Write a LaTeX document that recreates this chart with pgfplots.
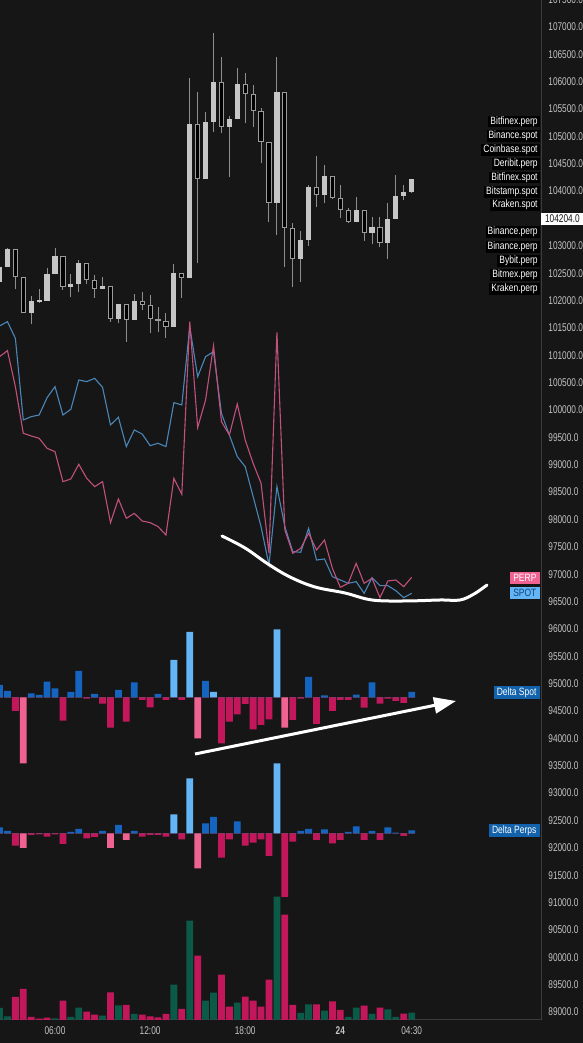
\documentclass[border=0pt]{standalone}
\usepackage{fontspec}
\setmainfont{Liberation Sans}[FakeStretch=0.8]
\newfontfamily\tickfont{Liberation Sans}[FakeStretch=0.74]
\usepackage{pgfplots}
\pgfplotsset{compat=1.18}
\usepackage{pgfplotstable}
\usetikzlibrary{arrows.meta}

\definecolor{bg}{HTML}{161616}
\definecolor{axisgray}{HTML}{3C3C3C}
\definecolor{ticktxt}{HTML}{C4C4C4}
\definecolor{candleup}{HTML}{C6C6C6}
\definecolor{candleout}{HTML}{9C9C9C}
\definecolor{wick}{HTML}{8E8E8E}
\definecolor{perpline}{HTML}{C2507C}
\definecolor{spotline}{HTML}{4A86B8}
\definecolor{dblue}{HTML}{1565C0}
\definecolor{lblue}{HTML}{64B5F6}
\definecolor{dpink}{HTML}{C2185B}
\definecolor{lpink}{HTML}{F06292}
\definecolor{volgreen}{HTML}{0B5A48}
\definecolor{tagblue}{HTML}{1262AC}

% 30-min candles, x in hours (24 = midnight), prices in USD
\pgfplotstableread{
t    o      h      l      c
2.5  102346 102620 102103 102620
3.0  102620 102955 102620 102937
4.5  101780 102084 101566 101999
5.0  101975 102206 101963 102011
5.5  101993 102590 101993 102486
6.0  102486 102955 102486 102821
7.0  102255 102486 102072 102297
7.5  102297 102742 102163 102681
9.0  102206 102437 102206 102273
10.0 101664 101932 101585 101932
11.0 101646 102115 101646 101999
13.5 101524 102663 101524 102498
14.5 102407 106062 102407 105221
15.5 104222 105441 104222 105258
16.0 105258 106884 105087 105995
17.0 105179 105380 104253 105313
17.5 105313 106257 105313 105958
20.0 103790 106458 103199 105806
21.5 102760 103278 102346 103108
22.0 103108 104113 103004 104082
23.0 103930 104478 103778 104277
25.0 103430 103887 103430 103656
26.0 103229 103534 103034 103351
27.0 103059 103778 102760 103485
27.5 103485 104295 103485 103918
28.0 103918 104113 103839 103991
28.5 103991 104216 103960 104216
}\upc

\pgfplotstableread{
t    o      h      l      c
3.5  102937 102937 102206 102425
4.0  102425 102425 101780 101780
6.5  102821 102821 102194 102255
8.0  102681 102681 102297 102376
8.5  102376 102468 102054 102206
9.5  102273 102273 101615 101664
10.5 101932 101932 101250 101646
11.5 101999 102163 101828 101914
12.0 101914 102102 101402 101664
12.5 101664 101889 101433 101633
13.0 101633 101767 101311 101524
14.0 102498 102498 102042 102407
15.0 105221 105818 102681 104222
16.5 105995 106446 105057 105179
18.0 105958 106153 105240 105776
18.5 105776 105940 105167 105471
19.0 105471 105514 104509 104892
19.5 104892 104892 103430 103790
20.5 105806 105806 102620 103321
21.0 103321 103412 102255 102760
22.5 104082 104649 103717 103930
23.5 104277 104277 103851 103869
24.0 103869 104113 103503 103656
24.5 103656 103686 103412 103430
25.5 103656 103656 103095 103229
26.5 103351 103534 102986 103059
}\downc

\pgfplotstableread{
t    spot   perp
2.5  101536 100975
3.0  101615 101085
3.5  101310 100427
4.0  99818  99574
4.5  99879  99526
5.0  99909  99483
5.5  100226 99300
6.0  100427 99239
6.5  99909  98691
7.0  100013 98740
7.5  100549 99008
8.0  100519 98752
8.5  100579 98600
9.0  100415 98691
9.5  99727  97942
10.0 99867  98374
10.5 99331  98021
11.0 99635  98112
11.5 99562  97972
12.0 99349  97942
12.5 99392  97869
13.0 99331  97716
13.5 100135 98752
14.0 100092 98460
14.5 101524 101615
15.0 100610 99678
15.5 100975 100184
16.0 101067 101176
16.5 99939  99788
17.0 99544  99544
17.5 99148  100110
18.0 98965  99452
18.5 98417  99026
19.0 97867  98661
19.5 97168  97381
20.0 98600  101420
20.5 97869  97808
21.0 97412  97381
21.5 97400  97473
22.0 97838  97747
22.5 97259  97442
23.0 97278  97625
23.5 96955  97107
24.0 96894  96760
24.5 96833  96833
25.0 96864  97198
25.5 96650  96833
26.0 96937  96924
26.5 96790  96571
27.0 96790  96876
27.5 96699  96894
28.0 96571  96772
28.5 96650  96943
}\cvd

% delta spot: d = normal bars, L = highlighted bars
\pgfplotstableread{
t    d     L
2.5  12.3  0
3.0  6.3   0
3.5  -13.7 0
4.0  0     -66
4.5  4     0
5.0  2.3   0
5.5  15.7  0
6.0  9     0
6.5  -23.3 0
7.0  5.3   0
7.5  26.3  0
8.0  -1.3  0
8.5  3.3   0
9.0  -6.3  0
9.5  -30.3 0
10.0 7.3   0
10.5 -24.3 0
11.0 15    0
11.5 -2.7  0
12.0 -10   0
12.5 3.3   0
13.0 -2.7  0
13.5 0     37.3
14.0 -2.7  0
14.5 0     65.3
15.0 0     -41
15.5 16.3  0
16.0 0     5.3
16.5 -46   0
17.0 -24.3 0
17.5 -17   0
18.0 -6.7  0
18.5 -32   0
19.0 -27.7 0
19.5 -22   0
20.0 0     68
20.5 0     -30.3
21.0 -22.7 0
21.5 -1.3  0
22.0 20.3  0
22.5 -26.7 0
23.0 2     0
23.5 -13.7 0
24.0 -2.7  0
24.5 -2.7  0
25.0 2.7   0
25.5 -10.3 0
26.0 15    0
26.5 -6.3  0
27.0 -1.3  0
27.5 -3.7  0
28.0 -5.7  0
28.5 5.3   0
}\dspot

\pgfplotstableread{
t    d     L
2.5  6     0
3.0  2.3   0
3.5  -12.3 0
4.0  0     -14.7
4.5  -1.7  0
5.0  -1    0
5.5  -3.3  0
6.0  -1    0
6.5  -10.7 0
7.0  1.3   0
7.5  4.3   0
8.0  -5    0
8.5  -3.7  0
9.0  2.3   0
9.5  0     -14.7
10.0 8.3   0
10.5 0     -6.7
11.0 2.3   0
11.5 -3.3  0
12.0 -1.7  0
12.5 -1.7  0
13.0 -3.3  0
13.5 0     19
14.0 -6    0
14.5 0     55
15.0 0     -35
15.5 10    0
16.0 16.3  0
16.5 -24.3 0
17.0 -6    0
17.5 12    0
18.0 -12.3 0
18.5 -9.3  0
19.0 -6    0
19.5 -22.7 0
20.0 0     70
20.5 -63.7 0
21.0 -8.3  0
21.5 2.3   0
22.0 4.3   0
22.5 -6.7  0
23.0 4     0
23.5 -10   0
24.0 -6.7  0
24.5 1.3   0
25.0 7     0
25.5 -6.7  0
26.0 2.3   0
26.5 -6.7  0
27.0 6     0
27.5 0.7   0
28.0 -2.7  0
28.5 3     0
}\dperp

\pgfplotstableread{
t    buy   sell
2.5  12    0
3.0  3.7   0
3.5  0     23
4.0  0     31
4.5  0     3
5.0  0     1.3
5.5  0     2.3
6.0  1.7   0
6.5  0     19.3
7.0  3     0
7.5  12.3  0
8.0  0     8.3
8.5  0     5.3
9.0  4.3   0
9.5  0     27.7
10.0 14.7  0
10.5 0     15
11.0 6     0
11.5 0     5.3
12.0 0     3.7
12.5 0     2.7
13.0 0     6
13.5 35.3  0
14.0 0     11
14.5 99.3  0
15.0 0     64.3
15.5 19.3  0
16.0 27.3  0
16.5 0     45.3
17.0 0     13.3
17.5 17.3  0
18.0 0     23.3
18.5 0     19.3
19.0 0     13.3
19.5 0     40.3
20.0 123.3 0
20.5 0     105.3
21.0 0     15
21.5 7     0
22.0 15.7  0
22.5 0     15.7
23.0 9.3   0
23.5 0     18.7
24.0 0     10
24.5 3     0
25.0 12.3  0
25.5 0     14.3
26.0 6     0
26.5 0     12.3
27.0 10.7  0
27.5 3     0
28.0 0     6.3
28.5 7.3   0
}\vol

\pgfplotsset{
  pane/.style={scale only axis, width=270.5pt, height=512pt,
    at={(0pt,11.5pt)}, anchor=south west, xmin=2.53, xmax=36.66},
  bars/.style={ybar, bar width=3.4pt, bar shift=0pt, draw=none},
  % stick={colour}{direction}{width}: vertical segments drawn as error bars
  stick/.style n args={3}{draw=none, mark=none,
    error bars/y dir=#2, error bars/y explicit, error bars/error mark=none,
    error bars/error bar style={draw=#1, line width=#3}},
}

\begin{document}
\begin{tikzpicture}
\useasboundingbox (0,0) rectangle (291.5pt,521.5pt);
\fill[bg] (0,0) rectangle (291.5pt,521.5pt);

\begin{axis}[pane,
    ymin=88853, ymax=107566,
    axis x line*=bottom, axis y line*=right,
    axis line style={draw=axisgray, line width=0.5pt},
    major tick length=0pt,
    ytick={89000,89500,90000,90500,91000,91500,92000,92500,93000,93500,94000,94500,
      95000,95500,96000,96500,97000,97500,98000,98500,99000,99500,100000,100500,
      101000,101500,102000,102500,103000,104000,104500,105000,105500,106000,
      106500,107000,107500},
    scaled y ticks=false,
    xtick={6,12,18,24,28.5},
    xticklabels={06:00,12:00,18:00,\textbf{24},04:30},
    tick label style={font=\tickfont\fontsize{5.6}{6}\selectfont, text=ticktxt},
    yticklabel style={anchor=west, inner sep=0pt, xshift=3.5pt,
      /pgf/number format/.cd, fixed, fixed zerofill, precision=1, 1000 sep={}},
    xticklabel style={anchor=center, inner sep=0pt, yshift=-5.5pt},
    /pgf/number format/assume math mode=true,
  ]
% wicks
\addplot[stick={wick}{plus}{0.5pt}]
  table[x=t, y=l, y error expr=\thisrow{h}-\thisrow{l}] {\upc};
\addplot[stick={wick}{plus}{0.5pt}]
  table[x=t, y=l, y error expr=\thisrow{h}-\thisrow{l}] {\downc};
% up bodies
\addplot[stick={candleup}{minus}{2.6pt}]
  table[x=t, y=c, y error expr={max(\thisrow{c}-\thisrow{o},18)}] {\upc};
% down bodies: grey outline, black inside
\addplot[stick={candleout}{minus}{2.6pt}]
  table[x=t, y=o, y error expr={max(\thisrow{o}-\thisrow{c},18)}] {\downc};
\addplot[stick={black}{minus}{1.6pt}]
  table[x=t, y expr=\thisrow{o}-18, y error expr={max(\thisrow{o}-\thisrow{c}-36,0)}] {\downc};
% spot / perp lines
\addplot[spotline, line width=0.55pt, mark=none] table[x=t, y=spot] {\cvd};
\addplot[perpline, line width=0.55pt, mark=none] table[x=t, y=perp] {\cvd};
\end{axis}

% delta spot pane
\begin{axis}[pane, hide axis, ymin=-322.7, ymax=701.3]
\addplot[bars, fill=dblue] table[x=t, y expr={max(\thisrow{d},0)}] {\dspot};
\addplot[bars, fill=dpink] table[x=t, y expr={min(\thisrow{d},0)}] {\dspot};
\addplot[bars, fill=lblue] table[x=t, y expr={max(\thisrow{L},0)}] {\dspot};
\addplot[bars, fill=lpink] table[x=t, y expr={min(\thisrow{L},0)}] {\dspot};
\end{axis}

% delta perps pane
\begin{axis}[pane, hide axis, ymin=-186.7, ymax=837.3]
\addplot[bars, fill=dblue] table[x=t, y expr={max(\thisrow{d},0)}] {\dperp};
\addplot[bars, fill=dpink] table[x=t, y expr={min(\thisrow{d},0)}] {\dperp};
\addplot[bars, fill=lblue] table[x=t, y expr={max(\thisrow{L},0)}] {\dperp};
\addplot[bars, fill=lpink] table[x=t, y expr={min(\thisrow{L},0)}] {\dperp};
\end{axis}

% volume pane
\begin{axis}[pane, hide axis, ymin=0, ymax=1024]
\addplot[bars, fill=volgreen] table[x=t, y=buy] {\vol};
\addplot[bars, fill=dpink] table[x=t, y=sell] {\vol};
\end{axis}

% annotations and labels, in pixel coordinates from the top left
\begin{scope}[x=0.5pt, y=-0.5pt, shift={(0pt,521.5pt)},
  src/.style={anchor=east, fill=black, text=white, font=\fontsize{5.3}{6}\selectfont,
    inner xsep=1pt, inner ysep=0pt, minimum height=5.6pt},
  tag/.style={anchor=east, font=\fontsize{5.3}{6}\selectfont,
    inner xsep=1.6pt, inner ysep=0pt, minimum height=6.2pt}]
\draw[white, line width=1.5pt, line cap=round] plot[smooth, tension=0.6] coordinates {
  (222,536) (245,548) (268,564) (290,577) (315,587) (345,593) (372,600)
  (405,601) (440,600) (460,600) (474,594) (487,585)};
\draw[white, line width=1.5pt, -{Triangle[length=11pt, width=8pt]}] (195,754) -- (456,701);

\foreach \y/\s in {121.5/Bitfinex.perp, 136/Binance.spot, 150/Coinbase.spot,
  164/Deribit.perp, 177.5/Bitfinex.spot, 192/Bitstamp.spot, 205/Kraken.spot,
  232/Binance.perp, 247/Binance.perp, 261/Bybit.perp, 275/Bitmex.perp, 289/Kraken.perp}
  \node[src] at (540,\y) {\s};
\node[anchor=west, fill=white, text=bg, font=\tickfont\fontsize{5.6}{6}\selectfont,
  inner xsep=1pt, inner ysep=0pt, minimum height=6.2pt, minimum width=21pt] at (541,219) {104204.0};
\node[tag, fill=lpink, text=white] at (540,578) {PERP};
\node[tag, fill=lblue, text=tagblue!70!black] at (540,593) {SPOT};
\node[tag, fill=tagblue, text=white] at (540,692.5) {Delta Spot};
\node[tag, fill=tagblue, text=white] at (540,830.5) {Delta Perps};
\end{scope}
\end{tikzpicture}
\end{document}
